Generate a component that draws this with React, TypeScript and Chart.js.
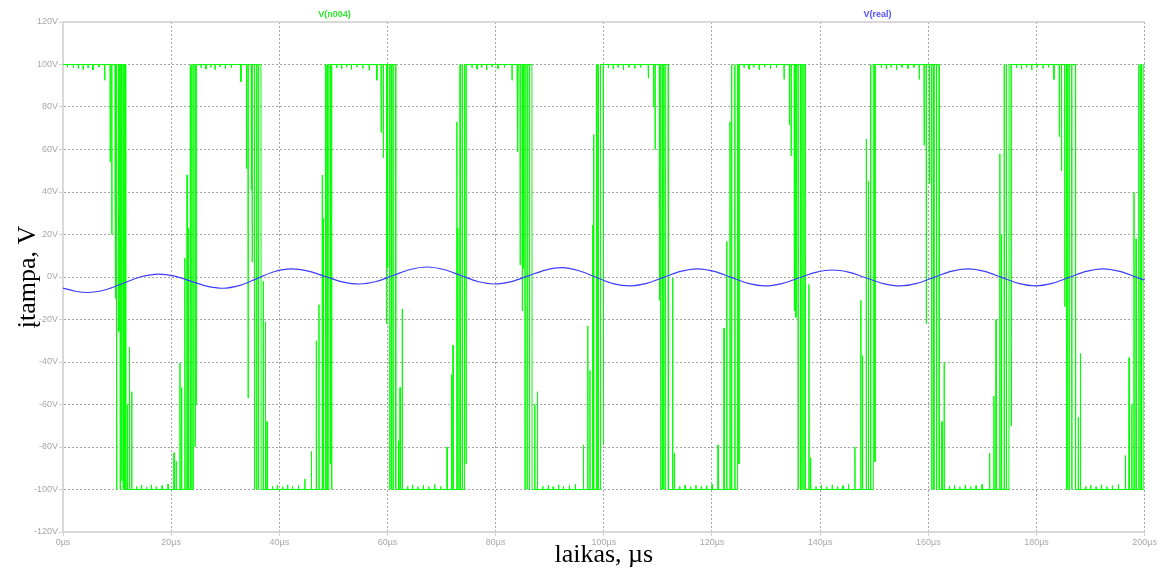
import { useEffect, useRef } from "react";
import { Chart, registerables } from "chart.js";

Chart.register(...registerables);

// Axis tick positions
const timeTicksUs = [0, 20, 40, 60, 80, 100, 120, 140, 160, 180, 200];
const voltTicksV = [-120, -100, -80, -60, -40, -20, 0, 20, 40, 60, 80, 100, 120];

// V(real): load voltage, sampled points [µs] and [V]
const realTimesUs = [
  0, 2.3, 4.6, 7.9, 11.15, 14.4, 17.7, 20.65, 23.6, 26.55, 29.5, 32.7, 35.85, 39.0, 42.2,
  45.35, 48.5, 51.65, 54.8, 57.9, 61.05, 64.2, 67.3, 70.4, 73.55, 76.7, 79.8, 82.9, 86.05,
  89.2, 92.3, 95.4, 98.55, 101.7, 104.8, 107.9, 111.05, 114.2, 117.3, 120.4, 123.55, 126.7,
  129.8, 132.9, 136.05, 139.2, 142.3, 145.4, 148.55, 151.7, 154.8, 157.9, 161.05, 164.2,
  167.3, 170.4, 173.55, 176.7, 179.8, 182.9, 186.05, 189.2, 192.3, 195.4, 198.55, 200,
];
const realVolts = [
  -5.2, -6.7, -7.3, -6.0, -2.95, 0.1, 1.4, 0.4, -1.95, -4.3, -5.3, -3.97, -0.75, 2.47, 3.8,
  2.76, 0.25, -2.26, -3.3, -2.13, 0.7, 3.53, 4.7, 3.53, 0.7, -2.13, -3.3, -2.17, 0.55,
  3.27, 4.4, 2.94, -0.1, -3.14, -4.2, -3.03, -0.2, 2.63, 3.8, 2.63, -0.2, -3.03,
  -4.2, -3.1, -0.45, 2.2, 3.3, 2.2, -0.45, -3.1, -4.2, -3.03, -0.2, 2.63,
  3.8, 2.63, -0.2, -3.03, -4.2, -3.03, -0.2, 2.63, 3.8, 2.63, -0.2, -1.5,
];

// V(n004): bridge output on the ±100 V rails.
// Each burst starts on rail `from`; `pre` are spikes [µs, V] off that rail,
// `edge` is when it settles on the opposite rail, `post` are spikes off the new rail.
type Spike = [number, number];
type Burst = { from: number; pre: Spike[]; edge: number; post: Spike[] };

const n004StartV = 100;
const n004EndV = 100;
const n004Bursts: Burst[] = [
  {
    from: 100,
    pre: [[0.8, 98.8], [1.9, 98.5], [2.8, 98.0], [3.7, 97.6], [4.6, 98.3], [5.5, 97.4], [6.6, 98.8],
      [7.7, 92.6], [8.7, 54], [9.0, 20], [9.6, 38.6], [9.75, -10], [9.9, -100], [10.3, -25.6],
      [10.55, -100], [10.83, -96], [11.1, -100], [11.3, -100]],
    edge: 11.57,
    post: [[11.9, -60], [12.25, -33], [12.68, -54], [13.6, -98.5], [14.5, -98], [15.4, -98.8],
      [16.3, -97.8], [17.2, -98.6], [18.3, -98.2], [19.4, -97.5]],
  },
  {
    from: -100,
    pre: [[20.5, -82.7], [20.9, -86.7], [21.6, -40.5], [21.9, -52], [22.5, 8.9], [22.9, 48],
      [23.1, 23], [23.5, 100], [23.8, 100]],
    edge: 24.07,
    post: [[24.4, -80], [24.6, -60], [25.5, 98.5], [26.4, 97.8], [27.3, 98.6], [28.1, 97.5],
      [29.0, 98.8], [30.0, 98.0], [31.1, 98.6]],
  },
  {
    from: 100,
    pre: [[32.87, 91.9], [33.92, 51], [34.2, -57], [34.8, 41], [34.95, 7], [35.4, -100],
      [35.8, -100], [36.1, -100]],
    edge: 36.6,
    post: [[37.0, -2], [37.4, -21], [37.7, -68], [38.7, -98.5], [39.6, -98], [40.6, -98.7],
      [41.5, -97.8], [42.4, -98.5], [43.5, -98.2], [44.7, -95]],
  },
  {
    from: -100,
    pre: [[45.9, -82], [46.8, -30], [47.3, -13], [47.9, 48], [48.1, 27.7], [48.5, 100], [48.8, 100]],
    edge: 49.1,
    post: [[49.4, -88], [49.65, -100], [50.6, 98.4], [51.5, 97.9], [52.4, 98.7], [53.3, 97.6],
      [54.3, 98.8], [55.4, 98.1], [56.6, 97.3]],
  },
  {
    from: 100,
    pre: [[58.0, 92.6], [58.8, 68], [59.2, 56], [59.8, -22], [60.0, 4.5], [60.4, -100],
      [60.7, -100], [61.0, -100]],
    edge: 61.5,
    post: [[62.0, -77], [62.3, -52], [62.7, -15], [63.7, -98.4], [64.6, -97.9], [65.6, -98.7],
      [66.6, -98], [67.6, -98.6], [68.7, -97.6], [69.8, -98.5]],
  },
  {
    from: -100,
    pre: [[71.0, -80], [71.8, -46], [72.1, -32], [72.8, 73], [73.0, 23], [73.4, 100], [73.8, 100]],
    edge: 74.2,
    post: [[74.5, -88], [75.6, 98.5], [76.5, 97.8], [77.4, 98.6], [78.3, 97.4], [79.3, 98.7],
      [80.4, 98.0], [81.6, 98.6]],
  },
  {
    from: 100,
    pre: [[83.0, 92.6], [83.96, 85.6], [84.1, 59], [84.5, 5.7], [84.9, -16], [85.1, 4],
      [85.4, -100], [85.8, -100], [86.2, -100]],
    edge: 86.7,
    post: [[87.2, -60], [87.7, -54], [88.7, -98.5], [89.7, -98], [90.6, -98.7], [91.6, -97.8],
      [92.5, -98.6], [93.6, -98.2], [94.7, -97.5]],
  },
  {
    from: -100,
    pre: [[96.2, -79], [97.0, -23], [97.4, -44], [97.9, 24.5], [98.1, 67], [98.6, 100], [98.9, 100]],
    edge: 99.35,
    post: [[99.9, -79], [100.8, 98.5], [101.7, 97.8], [102.6, 98.6], [103.6, 97.5], [104.6, 98.7],
      [105.7, 98.1], [106.8, 98.6]],
  },
  {
    from: 100,
    pre: [[108.2, 93.5], [109.2, 80], [109.45, 60], [110.25, -11], [110.5, -100], [110.9, -100],
      [111.3, -100]],
    edge: 111.9,
    post: [[112.7, -0.5], [113.0, -83], [114.0, -98.5], [115.0, -98], [116.0, -98.7], [117.0, -97.9],
      [118.0, -98.5], [119.0, -98.2], [120.0, -97.5]],
  },
  {
    from: -100,
    pre: [[121.1, -79], [122.2, -24], [122.7, 16.7], [123.3, 73], [123.6, 100], [124.2, 100]],
    edge: 124.7,
    post: [[124.95, -88], [125.9, 98.5], [126.8, 97.8], [127.7, 98.6], [128.7, 97.5], [129.7, 98.7],
      [130.8, 98.1], [131.9, 98.6]],
  },
  {
    from: 100,
    pre: [[133.3, 93], [134.3, 71.5], [134.6, 57], [135.2, -16], [135.5, -19], [135.9, -100],
      [136.4, -100], [136.8, -100]],
    edge: 137.2,
    post: [[137.9, -3.5], [138.2, -85], [139.2, -98.5], [140.2, -98], [141.2, -98.7], [142.2, -97.8],
      [143.2, -98.6], [144.2, -98.2], [145.2, -97.6]],
  },
  {
    from: -100,
    pre: [[146.4, -80], [147.5, -11], [147.8, -37], [148.5, 65], [148.9, 45], [149.3, 100]],
    edge: 149.8,
    post: [[150.1, -87], [151.3, 98.5], [152.2, 97.8], [153.1, 98.6], [154.1, 97.5], [155.1, 98.7],
      [156.2, 98.1], [157.3, 98.6]],
  },
  {
    from: 100,
    pre: [[158.3, 93], [159.2, 62], [159.6, -22], [160.2, 44], [160.6, -100], [161.0, -100],
      [161.5, -100]],
    edge: 162.0,
    post: [[162.5, -68], [162.9, -40], [163.9, -98.5], [164.8, -98], [165.8, -98.7], [166.8, -97.8],
      [167.8, -98.6], [168.8, -98.2], [169.9, -97.6]],
  },
  {
    from: -100,
    pre: [[171.3, -83], [172.1, -56], [172.5, -20], [173.2, 58], [173.5, 20], [174.0, 100], [174.4, 100]],
    edge: 174.9,
    post: [[175.3, -70], [176.3, 98.5], [177.2, 97.8], [178.1, 98.6], [179.1, 97.5], [180.1, 98.7],
      [181.2, 98.1], [182.2, 98.6]],
  },
  {
    from: 100,
    pre: [[183.2, 93], [184.2, 66], [184.6, 50], [185.2, -14], [185.6, -100], [186.0, -100],
      [186.5, -100]],
    edge: 187.2,
    post: [[187.7, -66], [188.1, -36], [189.1, -98.5], [190.0, -98], [191.0, -98.7], [192.0, -97.8],
      [193.0, -98.6], [194.0, -98.2], [195.1, -97.6]],
  },
  {
    from: -100,
    pre: [[196.4, -84], [197.1, -38], [197.6, -60], [198.0, 40], [198.4, 18], [198.9, 100], [199.3, 100]],
    edge: 199.7,
    post: [],
  },
];

const GREEN = "#00ff00";
const BLUE = "#3c3cff";

// Expand the bursts into a polyline: each spike leaves the rail and returns almost at once
function buildN004Points() {
  const w = 0.03;
  const pts: { x: number; y: number }[] = [{ x: 0, y: n004StartV }];
  for (const b of n004Bursts) {
    const to = -b.from;
    for (const [t, v] of b.pre) {
      pts.push({ x: t, y: b.from }, { x: t + w, y: v }, { x: t + 2 * w, y: b.from });
    }
    pts.push({ x: b.edge, y: b.from }, { x: b.edge + w, y: to });
    for (const [t, v] of b.post) {
      pts.push({ x: t, y: to }, { x: t + w, y: v }, { x: t + 2 * w, y: to });
    }
  }
  pts.push({ x: 200, y: n004EndV });
  return pts;
}

const realPoints = realTimesUs.map((t, i) => ({ x: t, y: realVolts[i] }));

// Top frame edge, solid like the axes
const frameTop = {
  id: "frameTop",
  beforeDatasetsDraw(chart: any) {
    const { ctx, chartArea } = chart;
    ctx.save();
    ctx.strokeStyle = "#d8d8d8";
    ctx.lineWidth = 2;
    ctx.beginPath();
    ctx.moveTo(chartArea.left, chartArea.top);
    ctx.lineTo(chartArea.right, chartArea.top);
    ctx.stroke();
    ctx.restore();
  },
};

// Trace names written above the plot in their trace colours
const traceNames = {
  id: "traceNames",
  afterDraw(chart: any) {
    const { ctx, chartArea } = chart;
    const w = chartArea.right - chartArea.left;
    const spots = [0.251, 0.753];
    ctx.save();
    ctx.font = "bold 9px 'Liberation Sans', Arial, sans-serif";
    ctx.textAlign = "center";
    ctx.textBaseline = "middle";
    chart.data.datasets.forEach((ds: any, i: number) => {
      ctx.fillStyle = ds.labelColor;
      ctx.fillText(ds.label, chartArea.left + w * spots[i], chartArea.top - 7);
    });
    ctx.restore();
  },
};

const tickFont = { family: "'Liberation Sans', Arial, sans-serif", size: 9 };
const titleFont = { family: "'Liberation Serif', 'Times New Roman', serif", size: 26 };

export default function App() {
  const canvasRef = useRef<HTMLCanvasElement | null>(null);

  useEffect(() => {
    if (!canvasRef.current) return;
    const chart = new Chart(canvasRef.current, {
      type: "line",
      data: {
        datasets: [
          {
            label: "V(n004)",
            labelColor: "#2de82d",
            data: buildN004Points(),
            borderColor: GREEN,
            borderWidth: 1,
            pointRadius: 0,
            tension: 0,
            order: 2,
          } as any,
          {
            label: "V(real)",
            labelColor: "#5050ff",
            data: realPoints,
            borderColor: BLUE,
            borderWidth: 1.2,
            pointRadius: 0,
            cubicInterpolationMode: "monotone",
            order: 1,
          } as any,
        ],
      },
      options: {
        responsive: false,
        animation: false,
        devicePixelRatio: 1,
        parsing: false,
        layout: { padding: { top: 22, right: 11, bottom: 0, left: 0 } },
        plugins: { legend: { display: false }, tooltip: { enabled: false } },
        scales: {
          x: {
            type: "linear",
            min: 0,
            max: 200,
            afterBuildTicks: (s: any) => {
              s.ticks = timeTicksUs.map((v) => ({ value: v }));
            },
            afterFit: (s: any) => {
              s.height = 39;
            },
            ticks: {
              callback: (v: any) => `${v}µs`,
              color: "#a8a8a8",
              font: tickFont,
              padding: 1,
              maxRotation: 0,
              autoSkip: false,
            },
            grid: { color: "#a6a6a6", lineWidth: 1, tickLength: 4, tickColor: "#d0d0d0" },
            border: { display: true, color: "#d8d8d8", width: 2, dash: [2, 2] },
            title: {
              display: true,
              text: "laikas, µs",
              color: "#000",
              font: titleFont,
              padding: { top: 0, bottom: 0 },
            },
          },
          y: {
            type: "linear",
            min: -120,
            max: 120,
            afterBuildTicks: (s: any) => {
              s.ticks = voltTicksV.map((v) => ({ value: v }));
            },
            afterFit: (s: any) => {
              s.width = 63;
            },
            ticks: {
              callback: (v: any) => `${v}V`,
              color: "#a8a8a8",
              font: tickFont,
              padding: 1,
              autoSkip: false,
            },
            grid: { color: "#a6a6a6", lineWidth: 1, tickLength: 4, tickColor: "#d0d0d0" },
            border: { display: true, color: "#d8d8d8", width: 2, dash: [2, 2] },
            title: {
              display: true,
              text: "įtampa, V",
              color: "#000",
              font: titleFont,
              padding: { top: 13, bottom: 0 },
            },
          },
        },
      } as any,
      plugins: [frameTop, traceNames],
    });
    return () => chart.destroy();
  }, []);

  return (
    <div style={{ position: "fixed", left: 0, top: 0, width: 1158, height: 571, background: "#fff" }}>
      <canvas ref={canvasRef} width={1158} height={571} />
    </div>
  );
}
